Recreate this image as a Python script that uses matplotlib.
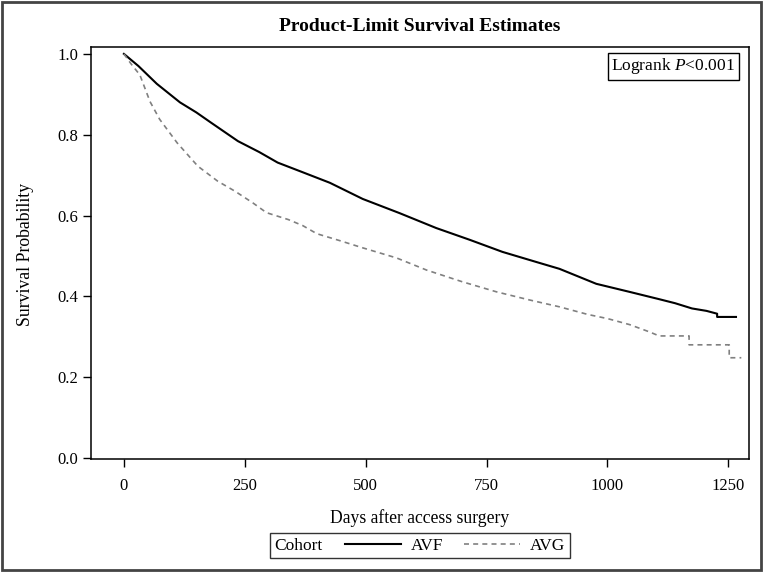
import matplotlib
matplotlib.use('Agg')
import matplotlib.pyplot as plt
from matplotlib.patches import Rectangle
from matplotlib.offsetbox import HPacker

plt.rcParams['font.family'] = ['Liberation Serif', 'DejaVu Serif']
plt.rcParams['mathtext.fontset'] = 'custom'
plt.rcParams['mathtext.rm'] = 'Liberation Serif'
plt.rcParams['mathtext.it'] = 'Liberation Serif:italic'

# Kaplan-Meier estimates (days, survival)
avf_days = [0, 10, 30, 68, 116, 150, 180, 236, 280, 318, 370, 426, 494, 570,
            646, 715, 783, 853, 901, 977, 1046, 1107, 1140, 1175, 1205, 1227,
            1227, 1266]
avf_surv = [1.0, 0.99, 0.97, 0.926, 0.88, 0.855, 0.83, 0.784, 0.757, 0.731,
            0.707, 0.681, 0.641, 0.606, 0.569, 0.540, 0.510, 0.485, 0.468,
            0.431, 0.411, 0.393, 0.383, 0.370, 0.364, 0.357, 0.349, 0.349]

avg_days = [0, 15, 33, 54, 74, 110, 153, 194, 230, 267, 295, 340, 370, 399,
            446, 494, 564, 626, 700, 771, 839, 901, 960, 1000, 1046, 1087,
            1107, 1169, 1169, 1252, 1252, 1277]
avg_surv = [1.0, 0.975, 0.948, 0.882, 0.838, 0.78, 0.722, 0.685, 0.66, 0.631,
            0.607, 0.59, 0.575, 0.555, 0.538, 0.520, 0.495, 0.465, 0.436,
            0.411, 0.391, 0.374, 0.355, 0.345, 0.33, 0.312, 0.302, 0.302,
            0.28, 0.28, 0.248, 0.248]

x_ticks = [0, 250, 500, 750, 1000, 1250]
y_ticks = [0.0, 0.2, 0.4, 0.6, 0.8, 1.0]

fig = plt.figure(figsize=(7.63, 5.72), dpi=100)
ax = fig.add_axes([0.1193, 0.1976, 0.8624, 0.7202])

avf_line, = ax.plot(avf_days, avf_surv, color='black', lw=1.5, label='AVF')
avg_line, = ax.plot(avg_days, avg_surv, color='#808080', lw=1.2,
                    dashes=(3, 2.5), label='AVG')

ax.set_xlim(-68, 1293)
ax.set_ylim(-0.0025, 1.017)
ax.set_xticks(x_ticks)
ax.set_xticklabels([str(t) for t in x_ticks])
ax.set_yticks(y_ticks)
ax.set_yticklabels(['%.1f' % t for t in y_ticks])
ax.tick_params(direction='out', length=6, width=1, labelsize=12,
               colors='black', pad=3)
ax.tick_params(axis='x', pad=8)
for s in ax.spines.values():
    s.set_linewidth(1.1)

ax.text(0.979, 0.978, 'Logrank $P$<0.001', transform=ax.transAxes,
        ha='right', va='top', fontsize=12.5,
        bbox=dict(boxstyle='square,pad=0.2', fc='white', ec='black', lw=1))

fig.text(0.5505, 0.9545, 'Product-Limit Survival Estimates', ha='center',
         va='center', fontsize=14, fontweight='bold')
fig.text(0.5505, 0.0944, 'Days after access surgery', ha='center',
         va='center', fontsize=12.7)
fig.text(0.034, 0.556, 'Survival Probability', ha='center', va='center',
         rotation=90, fontsize=12.8)

leg = fig.legend(handles=[avf_line, avg_line], labels=['AVF', 'AVG'],
                 title='Cohort', title_fontsize=12.5, fontsize=12.5, ncol=2,
                 loc='center', bbox_to_anchor=(0.5505, 0.0463),
                 frameon=True, fancybox=False, edgecolor='black',
                 handlelength=3.2, handletextpad=0.6, columnspacing=1.2,
                 borderpad=0.25, borderaxespad=0)
leg.get_frame().set_linewidth(1)
# put the legend title beside the entries, as in the original
leg._legend_box.__class__ = HPacker
leg._legend_box.sep = 16

fig.add_artist(Rectangle((0.003, 0.004), 0.994, 0.992,
                         transform=fig.transFigure, fill=False,
                         ec='#444444', lw=2))

fig.savefig('out.png', dpi=100)
